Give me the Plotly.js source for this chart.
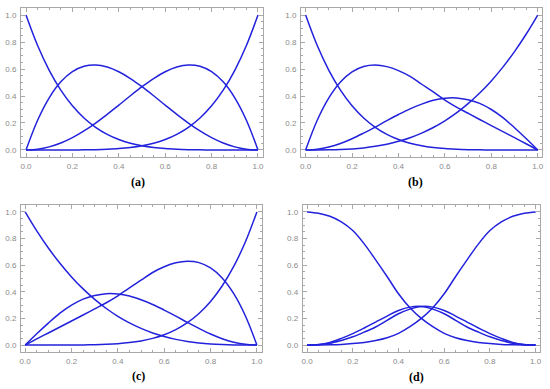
<!DOCTYPE html>
<html>
<head>
<meta charset="utf-8">
<script src="https://cdn.plot.ly/plotly-3.0.1.min.js"></script>
<style>html,body{margin:0;padding:0;background:#fff;}#chart{width:550px;height:389px;}</style>
</head>
<body>
<div id="chart"></div>
<script>
// Sample positions along the horizontal axis
const t = [0, 0.05, 0.1, 0.15, 0.2, 0.25, 0.3, 0.35, 0.4, 0.45, 0.5, 0.55, 0.6, 0.65, 0.7, 0.75, 0.8, 0.85, 0.9, 0.95, 1];

// Panel (a)
const a1 = [1, 0.7738, 0.5905, 0.4437, 0.3277, 0.2373, 0.1681, 0.1160, 0.0778, 0.0503, 0.0313, 0.0185, 0.0102, 0.0053, 0.0024, 0.0010, 0.0003, 0.0001, 0.00001, 0, 0];
const a2 = [0, 0.2206, 0.3867, 0.5047, 0.5806, 0.6205, 0.6300, 0.6146, 0.5795, 0.5294, 0.4688, 0.4019, 0.3325, 0.2641, 0.1995, 0.1412, 0.0914, 0.0516, 0.0228, 0.0056, 0];
const a3 = [0, 0.0056, 0.0228, 0.0516, 0.0914, 0.1412, 0.1995, 0.2641, 0.3325, 0.4019, 0.4688, 0.5294, 0.5795, 0.6146, 0.6300, 0.6205, 0.5806, 0.5047, 0.3867, 0.2206, 0];
const a4 = [0, 0, 0.00001, 0.0001, 0.0003, 0.0010, 0.0024, 0.0053, 0.0102, 0.0185, 0.0313, 0.0503, 0.0778, 0.1160, 0.1681, 0.2373, 0.3277, 0.4437, 0.5905, 0.7738, 1];

// Panel (b)
const b1 = [1, 0.7738, 0.5905, 0.4437, 0.3277, 0.2373, 0.1681, 0.1160, 0.0778, 0.0503, 0.0313, 0.0185, 0.0102, 0.0053, 0.0024, 0.0010, 0.0003, 0.0001, 0.00001, 0, 0];
const b2 = [0, 0.2205, 0.3863, 0.5037, 0.5791, 0.6191, 0.6300, 0.6177, 0.5880, 0.545, 0.487, 0.43, 0.37, 0.318, 0.272, 0.226, 0.181, 0.136, 0.091, 0.046, 0];
const b3 = [0, 0.006, 0.022, 0.048, 0.083, 0.125, 0.17, 0.218, 0.263, 0.305, 0.34, 0.368, 0.384, 0.386, 0.372, 0.345, 0.30, 0.24, 0.165, 0.085, 0];
const b4 = [0, 0.0001, 0.0010, 0.0034, 0.0080, 0.0156, 0.0270, 0.0429, 0.0640, 0.0911, 0.1250, 0.1664, 0.2160, 0.2746, 0.3430, 0.4219, 0.5120, 0.6141, 0.7290, 0.8574, 1];

// Panel (c)
const c1 = [1, 0.8574, 0.7290, 0.6141, 0.5120, 0.4219, 0.3430, 0.2746, 0.2160, 0.1664, 0.1250, 0.0911, 0.0640, 0.0429, 0.0270, 0.0156, 0.0080, 0.0034, 0.0010, 0.0001, 0];
const c2 = [0, 0.085, 0.165, 0.24, 0.30, 0.345, 0.372, 0.386, 0.384, 0.368, 0.34, 0.305, 0.263, 0.218, 0.17, 0.125, 0.083, 0.048, 0.022, 0.006, 0];
const c3 = [0, 0.046, 0.091, 0.136, 0.181, 0.226, 0.272, 0.318, 0.37, 0.43, 0.487, 0.545, 0.5880, 0.6177, 0.6300, 0.6191, 0.5791, 0.5037, 0.3863, 0.2205, 0];
const c4 = [0, 0, 0.00001, 0.0001, 0.0003, 0.0010, 0.0024, 0.0053, 0.0102, 0.0185, 0.0313, 0.0503, 0.0778, 0.1160, 0.1681, 0.2373, 0.3277, 0.4437, 0.5905, 0.7738, 1];

// Panel (d)
const d1 = [1, 0.99, 0.967, 0.925, 0.86, 0.76, 0.64, 0.515, 0.385, 0.28, 0.2, 0.138, 0.088, 0.055, 0.034, 0.02, 0.011, 0.005, 0.002, 0.0005, 0];
const d2 = [0, 0.004, 0.02, 0.05, 0.086, 0.128, 0.173, 0.218, 0.26, 0.285, 0.29, 0.27, 0.235, 0.186, 0.136, 0.097, 0.062, 0.035, 0.013, 0.003, 0];
const d3 = [0, 0.003, 0.013, 0.035, 0.062, 0.097, 0.136, 0.186, 0.235, 0.27, 0.29, 0.285, 0.26, 0.218, 0.173, 0.128, 0.086, 0.05, 0.02, 0.004, 0];
const d4 = [0, 0.0005, 0.002, 0.005, 0.011, 0.02, 0.034, 0.055, 0.088, 0.138, 0.2, 0.28, 0.385, 0.515, 0.64, 0.76, 0.86, 0.925, 0.967, 0.99, 1];

const panelLabels = ['(a)', '(b)', '(c)', '(d)'];

const LINE = '#2222dc';
const FRAME = '#a8a8a8';
const TICKTXT = '#8a8a8a';

const panels = [[a1, a2, a3, a4], [b1, b2, b3, b4], [c1, c2, c3, c4], [d1, d2, d3, d4]];
const traces = [];
panels.forEach((set, i) => {
  const sx = i === 0 ? 'x' : 'x' + (i + 1);
  const sy = i === 0 ? 'y' : 'y' + (i + 1);
  set.forEach(vals => {
    traces.push({
      x: t, y: vals, type: 'scatter', mode: 'lines',
      line: {color: LINE, width: 1.5, shape: 'spline', smoothing: 1},
      xaxis: sx, yaxis: sy, hoverinfo: 'skip', showlegend: false
    });
  });
});

function axis(domain, range, anchor, isY) {
  return {
    domain: domain, range: range, anchor: anchor,
    showgrid: false, zeroline: false,
    showline: true, linecolor: FRAME, linewidth: 1, mirror: 'ticks',
    ticks: 'inside', ticklen: 4, tickwidth: 1, tickcolor: FRAME,
    tick0: 0, dtick: 0.2, tickformat: '.1f',
    tickfont: {family: 'Liberation Sans, Arial, sans-serif', size: 8, color: TICKTXT},
    ticklabelstandoff: isY ? 2 : 1,
    minor: {tick0: 0, dtick: 0.05, ticks: 'inside', ticklen: 2, tickwidth: 1, tickcolor: FRAME},
    fixedrange: true
  };
}

const W = 550, H = 389;
const px = (a, b) => [a / W, b / W];
const py = (top, bottom) => [1 - bottom / H, 1 - top / H];

const XR = [-0.0216, 1.0216];
const YR = [-0.052, 1.052];

const layout = {
  width: W, height: H,
  margin: {l: 0, r: 0, t: 0, b: 0},
  paper_bgcolor: '#fff', plot_bgcolor: '#fff',
  showlegend: false,
  xaxis: axis(px(21, 263), XR, 'y', false),
  yaxis: axis(py(8, 157), YR, 'x', true),
  xaxis2: axis(px(301, 542), [-0.02, 1.0185], 'y2', false),
  yaxis2: axis(py(8, 157), YR, 'x2', true),
  xaxis3: axis(px(21, 262), [-0.018, 1.022], 'y3', false),
  yaxis3: axis(py(205, 352), YR, 'x3', true),
  xaxis4: axis(px(302.7, 540), [-0.019, 1.019], 'y4', false),
  yaxis4: axis(py(205, 352), YR, 'x4', true),
  annotations: [
    [137.5, 182], [415, 182], [138, 376], [416.5, 377]
  ].map((p, i) => ({
    text: '<b>' + panelLabels[i] + '</b>',
    xref: 'paper', yref: 'paper',
    x: p[0] / W, y: 1 - p[1] / H,
    xanchor: 'center', yanchor: 'middle', showarrow: false,
    font: {family: 'Liberation Serif, Times New Roman, serif', size: 12, color: '#000'}
  }))
};

Plotly.newPlot('chart', traces, layout, {staticPlot: true, displayModeBar: false});
</script>
</body>
</html>
